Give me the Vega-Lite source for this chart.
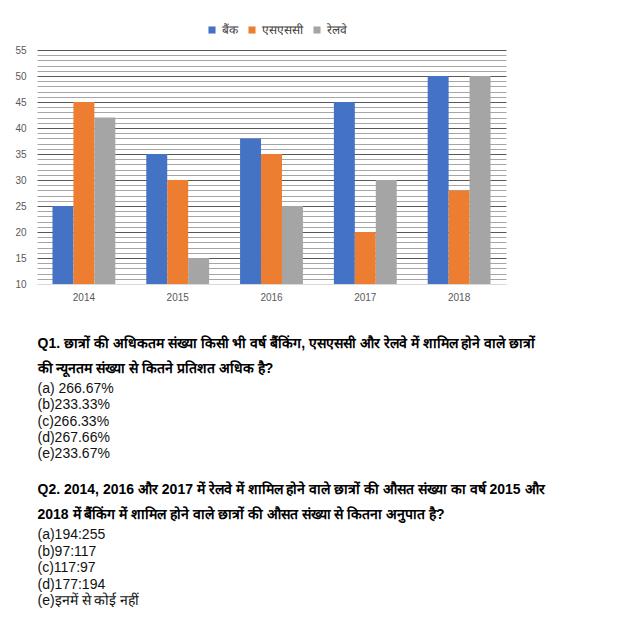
{
  "$schema": "https://vega.github.io/schema/vega-lite/v6.json",
  "padding": {"left": 8, "top": 24, "right": 5, "bottom": 5},
  "background": "white",
  "spacing": 14,
  "config": {
    "view": {"stroke": null},
    "font": "Liberation Sans",
    "legend": {"layout": {"top": {"anchor": "middle"}}}
  },
  "vconcat": [
    {
      "width": 469,
      "height": 234,
      "data": {
        "values": [
          {"year": "2014", "series": "बैंक", "value": 25},
          {"year": "2014", "series": "एसएससी", "value": 45},
          {"year": "2014", "series": "रेलवे", "value": 42},
          {"year": "2015", "series": "बैंक", "value": 35},
          {"year": "2015", "series": "एसएससी", "value": 30},
          {"year": "2015", "series": "रेलवे", "value": 15},
          {"year": "2016", "series": "बैंक", "value": 38},
          {"year": "2016", "series": "एसएससी", "value": 35},
          {"year": "2016", "series": "रेलवे", "value": 25},
          {"year": "2017", "series": "बैंक", "value": 45},
          {"year": "2017", "series": "एसएससी", "value": 20},
          {"year": "2017", "series": "रेलवे", "value": 30},
          {"year": "2018", "series": "बैंक", "value": 50},
          {"year": "2018", "series": "एसएससी", "value": 28},
          {"year": "2018", "series": "रेलवे", "value": 50}
        ]
      },
      "mark": {"type": "bar"},
      "encoding": {
        "x": {
          "field": "year",
          "type": "nominal",
          "scale": {"paddingInner": 0.33, "paddingOuter": 0.165},
          "axis": {
            "title": null,
            "labelAngle": 0,
            "ticks": false,
            "domainColor": "#D9D9D9",
            "labelColor": "#595959",
            "labelFontSize": 10,
            "labelPadding": 8,
            "minExtent": 33
          }
        },
        "xOffset": {"field": "series", "type": "nominal", "sort": ["बैंक", "एसएससी", "रेलवे"]},
        "y": {
          "field": "value",
          "type": "quantitative",
          "scale": {"domain": [10, 55], "nice": false, "zero": false},
          "axis": {
            "title": null,
            "values": [10,11,12,13,14,15,16,17,18,19,20,21,22,23,24,25,26,27,28,29,30,31,32,33,34,35,36,37,38,39,40,41,42,43,44,45,46,47,48,49,50,51,52,53,54,55],
            "labelExpr": "datum.value % 5 === 0 ? datum.label : ''",
            "ticks": false,
            "domain": false,
            "gridColor": {
              "condition": [
                {"test": "datum.value === 10", "value": "#D9D9D9"},
                {"test": "datum.value % 5 === 0", "value": "#595959"}
              ],
              "value": "#A6A6A6"
            },
            "labelColor": "#595959",
            "labelFontSize": 10,
            "labelPadding": 11,
            "minExtent": 29
          }
        },
        "y2": {"datum": 10},
        "color": {
          "field": "series",
          "type": "nominal",
          "scale": {"domain": ["बैंक", "एसएससी", "रेलवे"], "range": ["#4472C4", "#ED7D31", "#A5A5A5"]},
          "legend": {
            "title": null,
            "orient": "top",
            "direction": "horizontal",
            "symbolType": "square",
            "symbolSize": 50,
            "symbolStrokeWidth": 0,
            "labelFontSize": 12,
            "labelColor": "#404040",
            "offset": 9,
            "columnPadding": 8
          }
        }
      }
    },
    {
      "spacing": 0,
      "vconcat": [
        {
          "width": 1,
          "height": {"step": 25},
          "data": {
            "values": [
              {"line": 1, "text": "Q1. छात्रों की अधिकतम संख्या किसी भी वर्ष बैंकिंग, एसएससी और रेलवे में शामिल होने वाले छात्रों"},
              {"line": 2, "text": "की न्यूनतम संख्या से कितने प्रतिशत अधिक है?"}
            ]
          },
          "mark": {"type": "text", "align": "left", "baseline": "middle", "fontSize": 14, "fontWeight": "bold", "color": "#000000"},
          "encoding": {
            "y": {"field": "line", "type": "ordinal", "axis": null},
            "text": {"field": "text"}
          }
        },
        {
          "width": 1,
          "height": {"step": 16.3},
          "data": {
            "values": [
              {"line": 1, "text": "(a) 266.67%"},
              {"line": 2, "text": "(b)233.33%"},
              {"line": 3, "text": "(c)266.33%"},
              {"line": 4, "text": "(d)267.66%"},
              {"line": 5, "text": "(e)233.67%"}
            ]
          },
          "mark": {"type": "text", "align": "left", "baseline": "middle", "fontSize": 14, "color": "#111111"},
          "encoding": {
            "y": {"field": "line", "type": "ordinal", "axis": null},
            "text": {"field": "text"}
          }
        }
      ]
    },
    {
      "spacing": 0,
      "vconcat": [
        {
          "width": 1,
          "height": {"step": 25},
          "data": {
            "values": [
              {"line": 1, "text": "Q2. 2014, 2016 और 2017 में रेलवे में शामिल होने वाले छात्रों की औसत संख्या का वर्ष 2015 और"},
              {"line": 2, "text": "2018 में बैंकिंग में शामिल होने वाले छात्रों की औसत संख्या से कितना अनुपात है?"}
            ]
          },
          "mark": {"type": "text", "align": "left", "baseline": "middle", "fontSize": 14, "fontWeight": "bold", "color": "#000000"},
          "encoding": {
            "y": {"field": "line", "type": "ordinal", "axis": null},
            "text": {"field": "text"}
          }
        },
        {
          "width": 1,
          "height": {"step": 16.5},
          "data": {
            "values": [
              {"line": 1, "text": "(a)194:255"},
              {"line": 2, "text": "(b)97:117"},
              {"line": 3, "text": "(c)117:97"},
              {"line": 4, "text": "(d)177:194"},
              {"line": 5, "text": "(e)इनमें से कोई नहीं"}
            ]
          },
          "mark": {"type": "text", "align": "left", "baseline": "middle", "fontSize": 14, "color": "#111111"},
          "encoding": {
            "y": {"field": "line", "type": "ordinal", "axis": null},
            "text": {"field": "text"}
          }
        }
      ]
    }
  ]
}
